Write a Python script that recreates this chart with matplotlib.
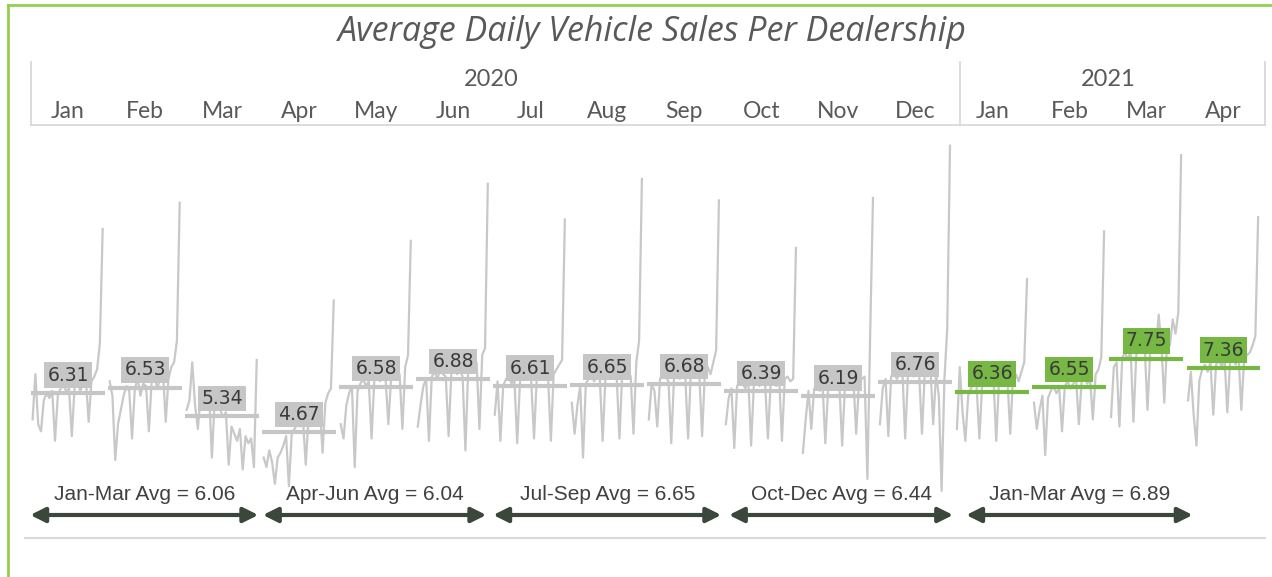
import matplotlib
matplotlib.use("Agg")
import matplotlib.pyplot as plt
from matplotlib.lines import Line2D
import matplotlib.transforms as mtransforms

# ---------------- data ----------------
month_labels = ["Jan", "Feb", "Mar", "Apr", "May", "Jun", "Jul", "Aug", "Sep", "Oct", "Nov", "Dec",
                "Jan", "Feb", "Mar", "Apr"]
year_labels = ["2020", "2021"]
months_per_year = [12, 4]
monthly_avg = [6.31, 6.53, 5.34, 4.67, 6.58, 6.88, 6.61, 6.65, 6.68, 6.39, 6.19, 6.76,
               6.36, 6.55, 7.75, 7.36]
quarter_labels = ["Jan-Mar Avg = 6.06", "Apr-Jun Avg = 6.04", "Jul-Sep Avg = 6.65",
                  "Oct-Dec Avg = 6.44", "Jan-Mar Avg = 6.89"]

jan20 = [5.2, 7.1, 5.0, 4.7, 6.0, 6.3, 6.1, 6.4, 4.3, 6.2, 6.5, 6.6, 6.4, 6.5, 4.5, 6.6, 6.8, 6.4, 6.7, 6.9, 5.1, 6.8, 7.0, 7.3, 8.4, 13.2]
feb20 = [6.8, 6.2, 3.5, 5.0, 5.6, 6.2, 6.6, 6.4, 4.4, 6.5, 6.9, 6.2, 6.7, 6.6, 4.7, 6.8, 7.0, 6.5, 6.9, 7.3, 5.1, 6.9, 7.4, 7.6, 8.5, 14.3]
mar20 = [5.6, 6.0, 7.6, 5.8, 4.8, 6.2, 6.4, 6.1, 6.3, 3.6, 6.0, 5.9, 5.6, 5.3, 5.5, 3.3, 4.9, 4.6, 4.3, 4.8, 3.1, 4.5, 4.2, 4.4, 3.2, 7.7]
apr20 = [3.6, 3.2, 3.9, 3.4, 2.5, 3.6, 3.8, 4.1, 4.5, 2.4, 4.6, 4.8, 5.0, 4.9, 5.2, 3.3, 5.3, 5.5, 5.6, 5.4, 5.8, 3.8, 5.9, 6.3, 6.5, 10.2]
may20 = [5.0, 4.4, 5.8, 6.3, 6.6, 3.2, 6.4, 6.7, 6.9, 6.6, 6.8, 4.4, 6.9, 7.0, 6.8, 7.1, 6.9, 5.0, 7.0, 7.2, 7.3, 7.1, 4.8, 7.4, 7.9, 12.7]
jun20 = [4.9, 5.8, 6.6, 6.9, 4.3, 7.0, 7.2, 6.9, 7.3, 7.1, 7.0, 4.5, 7.2, 7.4, 7.1, 7.3, 7.0, 3.9, 7.3, 7.5, 7.2, 7.6, 4.8, 7.9, 8.2, 15.1]
jul20 = [5.4, 6.8, 4.3, 6.6, 6.9, 7.0, 6.7, 6.9, 4.2, 6.8, 7.0, 6.9, 7.1, 6.8, 4.4, 7.0, 7.1, 6.9, 7.2, 7.0, 4.3, 7.1, 7.3, 7.5, 7.7, 13.6]
aug20 = [5.9, 4.6, 5.8, 6.6, 3.6, 6.7, 6.9, 7.0, 6.8, 7.1, 6.9, 4.3, 7.0, 7.2, 6.9, 7.1, 7.0, 4.4, 7.2, 7.1, 7.3, 7.0, 4.6, 7.6, 8.5, 15.3]
sep20 = [5.2, 6.7, 6.4, 4.9, 6.9, 7.1, 7.0, 6.8, 4.2, 7.0, 7.2, 6.9, 7.1, 7.0, 4.4, 7.2, 7.0, 7.3, 7.1, 4.5, 7.2, 7.4, 7.1, 7.6, 8.1, 14.4]
oct20 = [5.0, 6.1, 6.5, 4.0, 6.6, 6.8, 6.7, 6.5, 6.9, 4.1, 6.7, 6.8, 6.6, 6.9, 6.7, 4.4, 6.8, 6.9, 6.6, 7.0, 4.3, 6.9, 7.0, 6.8, 6.9, 12.4]
nov20 = [3.8, 5.2, 6.4, 4.8, 6.5, 6.6, 6.4, 6.7, 4.2, 6.5, 6.6, 6.8, 6.5, 6.7, 4.1, 6.6, 6.8, 6.5, 6.9, 4.6, 6.7, 6.9, 7.0, 2.7, 8.8, 14.5]
dec20 = [5.0, 6.5, 6.9, 4.5, 7.0, 7.2, 6.9, 7.1, 7.3, 4.4, 7.1, 7.2, 7.0, 7.3, 7.1, 4.6, 7.2, 7.0, 7.4, 5.0, 7.1, 6.2, 2.2, 6.9, 9.0, 16.7]
jan21 = [4.8, 7.4, 5.5, 4.3, 6.2, 6.5, 6.8, 6.6, 4.4, 6.7, 6.9, 6.6, 6.8, 7.0, 4.3, 6.8, 7.0, 6.7, 6.9, 4.6, 7.0, 7.1, 6.8, 7.2, 7.6, 11.1]
feb21 = [5.9, 4.8, 5.6, 6.2, 3.7, 6.1, 6.4, 6.6, 6.3, 6.5, 4.7, 6.6, 6.8, 6.5, 6.7, 6.9, 5.0, 6.8, 7.0, 6.7, 6.9, 5.2, 7.1, 7.3, 7.8, 13.1]
mar21 = [5.3, 7.4, 7.6, 4.9, 7.8, 8.0, 7.7, 8.1, 5.1, 7.9, 8.2, 8.0, 8.3, 5.6, 8.1, 8.4, 8.2, 9.6, 8.3, 5.9, 8.5, 8.3, 9.4, 8.8, 9.7, 16.3]
apr21 = [6.0, 7.2, 5.4, 4.1, 6.8, 7.3, 7.5, 7.2, 7.6, 5.4, 7.5, 7.7, 7.4, 7.8, 5.5, 7.6, 7.8, 7.5, 7.9, 5.6, 7.7, 7.9, 8.0, 8.3, 8.7, 13.7]

daily_series = [jan20, feb20, mar20, apr20, may20, jun20, jul20, aug20, sep20, oct20, nov20, dec20,
                jan21, feb21, mar21, apr21]

# ---------------- layout ----------------
W, H = 1272, 577
fig = plt.figure(figsize=(W / 100, H / 100), dpi=100)
fig.patch.set_facecolor("white")


def fx(px):
    return px / W


def fy(py):
    return 1 - py / H


ax = fig.add_axes([fx(29.5), fy(538), fx(1262) - fx(29.5), fy(128) - fy(538)])
ax.set_xlim(0, len(month_labels))
ax.set_ylim(0.22, 17.44)
ax.axis("off")

GREY_LINE = "#C8C8C8"
GREY_BOX = "#C6C6C6"
GREEN = "#76B843"
TEXT = "#595959"

n_2020 = months_per_year[0]
for i, vals in enumerate(daily_series):
    n = len(vals)
    xs = [i + 0.04 + k * 0.91 / (n - 1) for k in range(n)]
    ax.plot(xs, vals, color=GREY_LINE, lw=1.6, zorder=1, solid_joinstyle="round")
    c = GREEN if i >= n_2020 else GREY_BOX
    avg = monthly_avg[i]
    ax.plot([i + 0.02, i + 0.98], [avg, avg], color=c, lw=3.0, solid_capstyle="butt", zorder=2)
    ax.annotate(f"{avg:.2f}", (i + 0.5, avg), xytext=(0, 6.0), textcoords="offset points",
                ha="center", va="bottom", fontsize=13.5, color="#3A3A3A", zorder=3,
                bbox=dict(boxstyle="square,pad=0.17", fc=c, ec="none"))

blend = mtransforms.blended_transform_factory(ax.transData, fig.transFigure)

# month / year header
for i, m in enumerate(month_labels):
    fig.text(i + 0.5, fy(112), m, transform=blend, ha="center", va="center",
             fontsize=16.5, family="Lato", color=TEXT)
start = 0
for y, cnt in zip(year_labels, months_per_year):
    fig.text(start + cnt / 2, fy(80), y, transform=blend, ha="center", va="center",
             fontsize=17, family="Lato", color=TEXT)
    start += cnt

hdr_col = "#D9D9D9"
for xpx in [30.5, 960, 1264.5]:
    fig.add_artist(Line2D([fx(xpx), fx(xpx)], [fy(62), fy(125)], color=hdr_col, lw=1.3))
fig.add_artist(Line2D([fx(30.5), fx(1264.5)], [fy(125), fy(125)], color=hdr_col, lw=1.3))

# bottom separator
fig.add_artist(Line2D([fx(25), fx(1265)], [fy(538), fy(538)], color=hdr_col, lw=1.5))

# quarter arrows
quarter_spans = [(0.01, 2.97), (3.03, 5.93), (6.02, 8.98), (9.08, 11.99), (12.16, 15.10)]
for (x0, x1), lab in zip(quarter_spans, quarter_labels):
    ax.annotate("", xy=(x1, fy(515)), xytext=(x0, fy(515)), xycoords=blend, textcoords=blend,
                arrowprops=dict(arrowstyle="<|-|>", lw=3, mutation_scale=22, color="#3B473B",
                                shrinkA=0, shrinkB=0), annotation_clip=False)
    fig.text((x0 + x1) / 2, fy(495), lab, transform=blend, ha="center", va="center",
             fontsize=15, family="Liberation Sans", color="#404040")

# title
fig.text(fx(652), fy(32), "Average Daily Vehicle Sales Per Dealership", ha="center", va="center",
         fontsize=24.5, family="Open Sans", style="italic", color=TEXT)

# green frame
fig.add_artist(Line2D([fx(8), fx(1272)], [fy(5), fy(5)], color="#92D050", lw=2))
fig.add_artist(Line2D([fx(8), fx(8)], [fy(5), fy(577)], color="#92D050", lw=2))

fig.savefig("out.png", dpi=100, facecolor="white")
